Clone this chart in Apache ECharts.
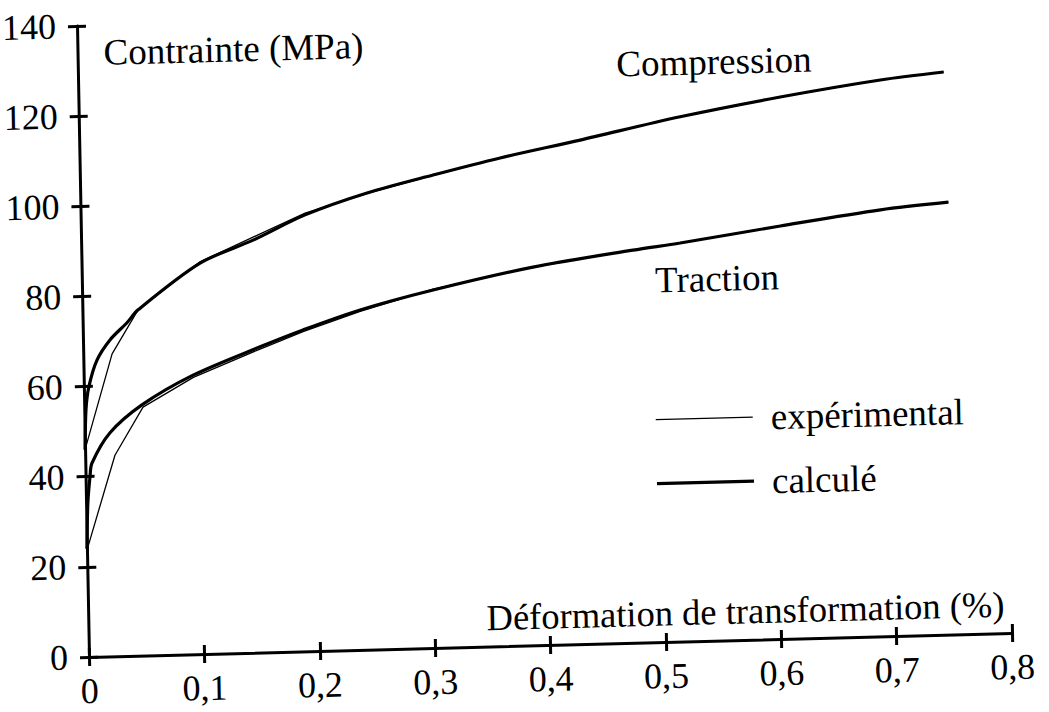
<!DOCTYPE html>
<html>
<head>
<meta charset="utf-8">
<script src="https://cdn.jsdelivr.net/npm/echarts@6/dist/echarts.min.js"></script>
<style>
html,body{margin:0;padding:0;background:#fff;overflow:hidden;}
#chart{width:1049px;height:712px;transform-origin:89px 657px;transform:matrix(1,-0.026,0.019,1,0,0);}
</style>
</head>
<body>
<div id="chart"></div>
<script>
// ---- Data (strain in %, stress in MPa) ----
const xTickLabels = ['0','0,1','0,2','0,3','0,4','0,5','0,6','0,7','0,8'];
const yTickLabels = ['0','20','40','60','80','100','120','140'];

const calcCompression = [[0,46],[0.0015,55],[0.0044,60],[0.0118,65.8],[0.0234,70.2],[0.0384,73.9],[0.0482,76.7],
  [0.1027,86.7],[0.149,91.5],[0.1945,96.8],[0.2485,101.3],[0.306,104.9],[0.3644,108.3],[0.434,111.8],
  [0.521,116.4],[0.608,120.2],[0.695,123.4],[0.75,124.8]];
const expCompression = [[0,46],[0.025,67.1],[0.0482,76.7],[0.1027,87.0],[0.1945,97.2],[0.2485,101.2],
  [0.306,104.8],[0.3644,108.3],[0.434,111.8],[0.521,116.4],[0.608,120.2],[0.695,123.4],[0.75,124.8]];
const calcTraction = [[0,24],[0.0015,34],[0.0038,39.9],[0.0058,43.0],[0.0219,49.6],[0.050,55.6],[0.0948,61.9],
  [0.1533,67.8],[0.1908,71.3],[0.2406,75.4],[0.3042,79.4],[0.391,83.9],[0.478,87.1],[0.519,88.4],
  [0.606,91.6],[0.693,94.6],[0.752,95.9]];
const expTraction = [[0,23.7],[0.0258,44.6],[0.0509,55.1],[0.095,61.4],[0.1533,67.3],[0.1908,70.9],[0.2406,75.1],
  [0.3042,79.6],[0.391,83.9],[0.478,87.1],[0.519,88.4],[0.606,91.6],[0.693,94.6],[0.752,95.9]];

const seriesNames = {exp:'expérimental', calc:'calculé'};
const curveLabels = ['Compression','Traction'];
const axisTitles = {x:'Déformation de transformation (%)', y:'Contrainte (MPa)'};

// ---- Chart ----
const FONT = "'Liberation Serif','Times New Roman',serif";
const black = '#000';
const chart = echarts.init(document.getElementById('chart'), null, {renderer:'svg'});

const tickStyle = {color:black, width:3};
function xAxisBase(){
  return {type:'value', min:0, max:0.8, interval:0.1, position:'bottom', splitLine:{show:false}};
}
function yAxisBase(){
  return {type:'value', min:0, max:140, interval:20, position:'left', splitLine:{show:false}};
}

const option = {
  animation:false,
  backgroundColor:'#fff',
  grid:{left:89, right:37, top:26, bottom:55, containLabel:false, outerBoundsMode:'none'},
  xAxis:[
    Object.assign(xAxisBase(), {
      axisLine:{show:true, onZero:false, lineStyle:{color:black, width:3}},
      axisTick:{show:true, inside:false, length:9, lineStyle:tickStyle},
      axisLabel:{show:true, margin:20, color:black, fontFamily:FONT, fontSize:36, lineHeight:28,
        formatter:v => xTickLabels[Math.round(v*10)]},
      name:axisTitles.x, nameLocation:'middle', nameGap:-29,
      nameTextStyle:{fontFamily:FONT, fontSize:36.5, color:black, align:'center', verticalAlign:'middle',
        lineHeight:36, padding:[0,0,0,391]}
    }),
    Object.assign(xAxisBase(), {
      axisLine:{show:false}, axisLabel:{show:false},
      axisTick:{show:true, inside:true, length:9, lineStyle:tickStyle}
    })
  ],
  yAxis:[
    Object.assign(yAxisBase(), {
      axisLine:{show:true, onZero:false, lineStyle:{color:black, width:3}},
      axisTick:{show:true, inside:false, length:9, lineStyle:tickStyle},
      axisLabel:{show:true, margin:21, color:black, fontFamily:FONT, fontSize:36,
        formatter:v => yTickLabels[Math.round(v/20)]},
      name:axisTitles.y, nameLocation:'end', nameGap:-27,
      nameTextStyle:{fontFamily:FONT, fontSize:37, color:black, align:'left', verticalAlign:'middle',
        lineHeight:36, padding:[0,0,0,26]}
    }),
    Object.assign(yAxisBase(), {
      axisLine:{show:false}, axisLabel:{show:false},
      axisTick:{show:true, inside:true, length:9, lineStyle:tickStyle}
    })
  ],
  legend:{
    orient:'vertical', left:660, top:416, padding:0, itemWidth:97, itemHeight:14, itemGap:27,
    selectedMode:false,
    textStyle:{fontFamily:FONT, fontSize:37, color:black, lineHeight:36, padding:[0,0,0,13]},
    data:[
      {name:seriesNames.exp, icon:'path://M0 0H100V1.4H0Z'},
      {name:seriesNames.calc, icon:'path://M0 0H100V3.2H0Z'}
    ]
  },
  graphic:[
    {type:'text', x:725, y:78, style:{text:curveLabels[0], font:'37px '+FONT, fill:black, align:'center', verticalAlign:'middle'}},
    {type:'text', x:724, y:295, style:{text:curveLabels[1], font:'37px '+FONT, fill:black, align:'center', verticalAlign:'middle'}}
  ],
  series:[
    {name:seriesNames.calc, type:'line', data:calcCompression, symbol:'none', smooth:0.3,
      lineStyle:{color:black, width:3.2}, itemStyle:{color:black}},
    {name:seriesNames.calc, type:'line', data:calcTraction, symbol:'none', smooth:0.3,
      lineStyle:{color:black, width:3.2}, itemStyle:{color:black}},
    {name:seriesNames.exp, type:'line', data:expCompression, symbol:'none', smooth:false,
      lineStyle:{color:black, width:1.3}, itemStyle:{color:black}},
    {name:seriesNames.exp, type:'line', data:expTraction, symbol:'none', smooth:false,
      lineStyle:{color:black, width:1.3}, itemStyle:{color:black}}
  ]
};
chart.setOption(option);
</script>
</body>
</html>
